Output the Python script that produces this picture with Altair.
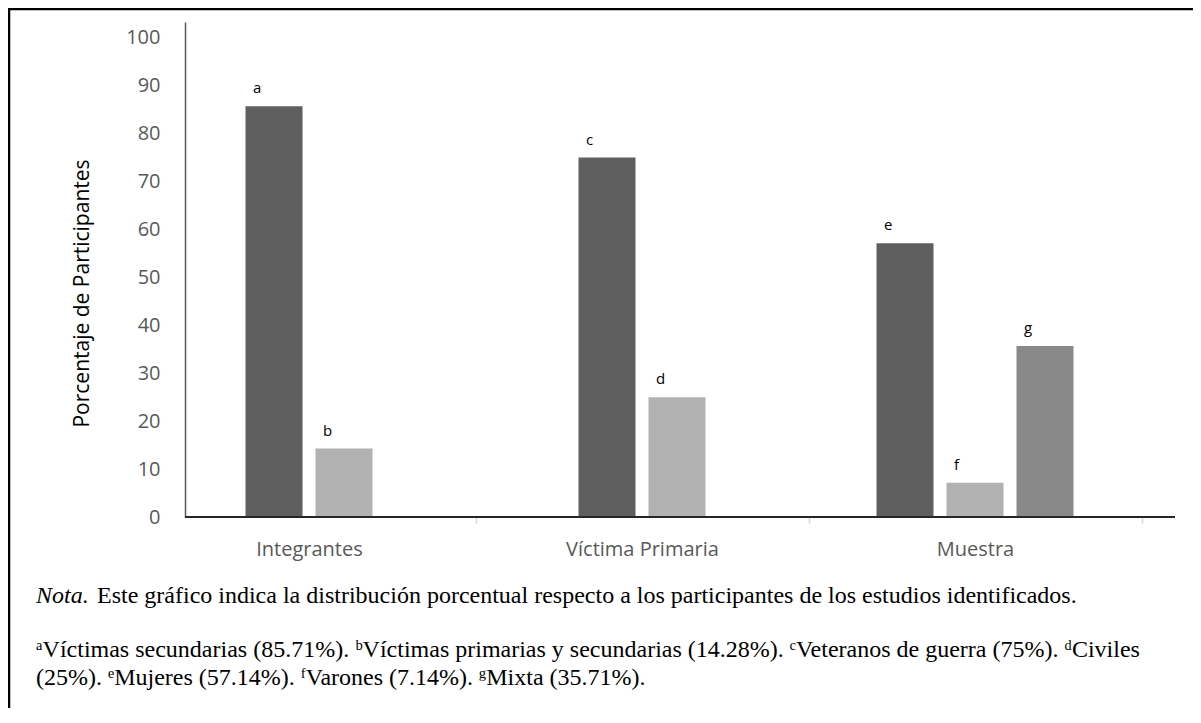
import altair as alt
import pandas as pd

# ---- data ----
categories = ["Integrantes", "Víctima Primaria", "Muestra"]
group_of_bar = ["Integrantes", "Integrantes", "Víctima Primaria", "Víctima Primaria",
                "Muestra", "Muestra", "Muestra"]
series_of_bar = ["s1", "s2", "s1", "s2", "s1", "s2", "s3"]
values = [85.71, 14.28, 75, 25, 57.14, 7.14, 35.71]
bar_labels = ["a", "b", "c", "d", "e", "f", "g"]
series_names = ["s1", "s2", "s3"]
series_colors = ["#5f5f5f", "#b2b2b2", "#898989"]
y_ticks = [0, 10, 20, 30, 40, 50, 60, 70, 80, 90, 100]
y_title = "Porcentaje de Participantes"

note_italic = ["Nota."]
note_line1 = ["Este gráfico indica la distribución porcentual respecto a los participantes de los estudios identificados."]
note_line2 = ["ᵃVíctimas secundarias (85.71%). ᵇVíctimas primarias y secundarias (14.28%).  ᶜVeteranos de guerra (75%). ᵈCiviles"]
note_line3 = ["(25%). ᵉMujeres (57.14%). ᶠVarones (7.14%). ᵍMixta (35.71%)."]

df = pd.DataFrame({
    "group": group_of_bar,
    "series": series_of_bar,
    "value": values,
    "label": bar_labels,
})

W, H = 990, 495
FONT = "Open Sans"
SERIF = "Liberation Serif"
BAND_RANGE = [-42.5, 956.5]
STEP = (BAND_RANGE[1] - BAND_RANGE[0]) / len(categories)
HALF = STEP / 2
SLOT = 70

base = alt.Chart(df).transform_window(
    rank="rank()", groupby=["group"], sort=[{"field": "series"}]
).transform_joinaggregate(
    n="count()", groupby=["group"]
).transform_calculate(
    off="datum.rank - (datum.n + 1) / 2"
)

x_enc = alt.X(
    "group:N",
    sort=categories,
    scale=alt.Scale(paddingInner=0, paddingOuter=0, range=BAND_RANGE),
    axis=alt.Axis(
        title=None, labelAngle=0, labelFont=FONT, labelFontSize=20,
        labelColor="#595959", labelPadding=16, tickBand="extent",
        tickSize=6, tickColor="#d6d6d6", tickWidth=1.5, domain=False,
        tickOpacity={"condition": {"test": "datum.extra", "value": 0}, "value": 1},
    ),
)
xoff_enc = alt.XOffset("off:Q", scale=alt.Scale(domain=[-1, 1], range=[HALF - SLOT, HALF + SLOT]))
y_enc = alt.Y(
    "value:Q",
    scale=alt.Scale(domain=[0, 103.3], nice=False, zero=True),
    axis=alt.Axis(
        values=y_ticks, title=y_title, titleFont=FONT, titleFontSize=21,
        titleFontWeight="normal", titleColor="#000000", titleX=-103, titleY=271,
        titleBaseline="middle", labelFont=FONT, labelFontSize=20,
        labelColor="#595959", labelPadding=25, ticks=False, grid=False,
        domainColor="#595959", domainWidth=1.5,
    ),
)

bars = base.mark_bar(width=57).encode(
    x=x_enc,
    xOffset=xoff_enc,
    y=y_enc,
    color=alt.Color("series:N", scale=alt.Scale(domain=series_names, range=series_colors), legend=None),
)

labels = base.mark_text(
    align="left", baseline="alphabetic", dx=-21, dy=-13,
    font=FONT, fontSize=15, color="#000000",
).encode(
    x=alt.X("group:N", sort=categories),
    xOffset=xoff_enc,
    y=alt.Y("value:Q"),
    text="label:N",
)

baseline = alt.Chart(pd.DataFrame({"k": [0]})).mark_rule(
    color="#262626", strokeWidth=2
).encode(
    y=alt.datum(0), x=alt.value(0), x2=alt.value(W)
)

border = alt.Chart(pd.DataFrame({"k": [0]})).mark_rect(
    fill="transparent", stroke="#000000", strokeWidth=2.5
).encode(
    x=alt.value(-176), x2=alt.value(1300), y=alt.value(-13), y2=alt.value(900)
)

def note(text_list, x, y, italic=False):
    return alt.Chart(pd.DataFrame({"t": text_list})).mark_text(
        align="left", baseline="alphabetic", font=SERIF, fontSize=24,
        fontStyle="italic" if italic else "normal", color="#000000",
    ).encode(x=alt.value(x), y=alt.value(y), text="t:N")

n0 = note(note_italic, -149, 581, italic=True)
n1 = note(note_line1, -88, 581)
n2 = note(note_line2, -149, 635)
n3 = note(note_line3, -149, 663)

chart = alt.layer(border, bars, baseline, labels, n0, n1, n2, n3).properties(
    width=W, height=H,
    autosize=alt.AutoSizeParams(type="none"),
    padding={"left": 177, "top": 14, "right": 18, "bottom": 191},
).configure_view(stroke=None)

chart.save("out.html", embed_options={"renderer": "svg", "actions": False})
